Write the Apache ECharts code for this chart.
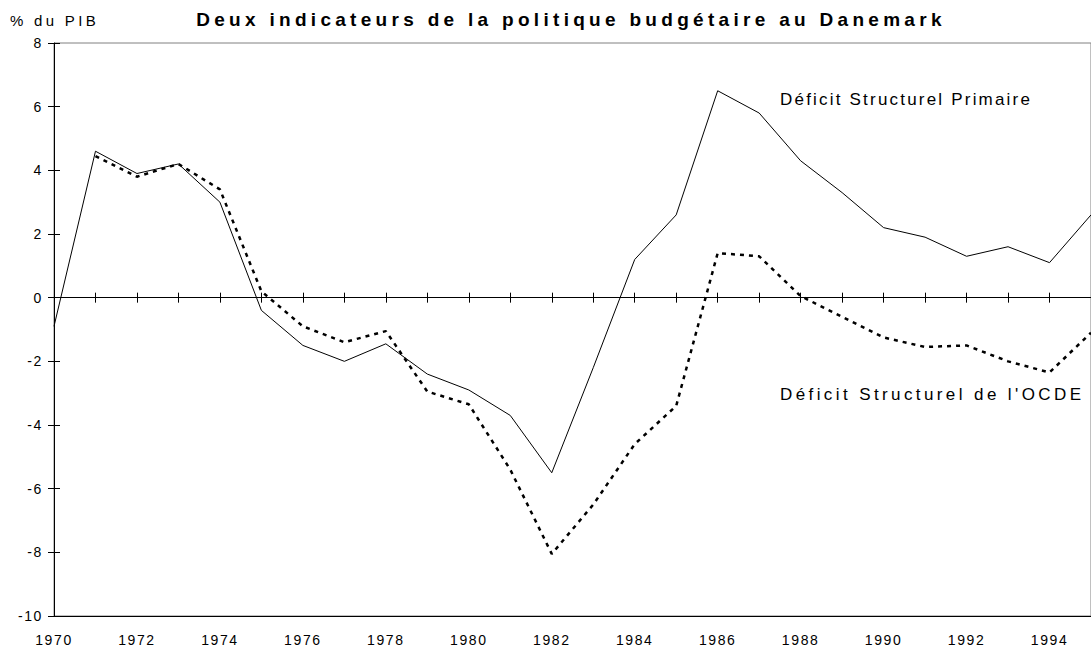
<!DOCTYPE html>
<html>
<head>
<meta charset="utf-8">
<script src="https://cdn.jsdelivr.net/npm/echarts@6/dist/echarts.min.js"></script>
<style>
  html, body { margin: 0; padding: 0; background: #fff; }
  #chart { width: 1091px; height: 648px; }
</style>
</head>
<body>
<div id="chart"></div>
<script>
// années 1970-1995 (1995 coupé au bord droit)
const years = [1970, 1971, 1972, 1973, 1974, 1975, 1976, 1977, 1978, 1979, 1980, 1981, 1982,
  1983, 1984, 1985, 1986, 1987, 1988, 1989, 1990, 1991, 1992, 1993, 1994, 1995];
const primaire = [-0.9, 4.6, 3.9, 4.2, 3.0, -0.4, -1.5, -2.0, -1.45, -2.4, -2.9, -3.7, -5.5,
  -2.2, 1.2, 2.6, 6.5, 5.8, 4.3, 3.3, 2.2, 1.9, 1.3, 1.6, 1.1, 2.6];
const ocde = [null, 4.45, 3.8, 4.2, 3.4, 0.2, -0.9, -1.4, -1.05, -2.95, -3.35, -5.4, -8.05,
  -6.5, -4.6, -3.4, 1.4, 1.3, 0.05, -0.6, -1.25, -1.55, -1.5, -2.0, -2.35, -1.1];
const yTicks = [-10, -8, -6, -4, -2, 0, 2, 4, 6, 8];

const font = 'Liberation Sans, Arial, sans-serif';
const chart = echarts.init(document.getElementById('chart'), null, { renderer: 'svg' });

const pairs = (vals) => years.map((y, i) => [y, vals[i]]);

chart.setOption({
  animation: false,
  backgroundColor: '#fff',
  grid: {
    left: 54, top: 43, width: 1044, height: 573,
    show: true, borderColor: '#808080', borderWidth: 1, backgroundColor: 'transparent'
  },
  xAxis: [
    { // axe du bas avec les étiquettes
      type: 'value', min: 1970, max: 1995, interval: 2, position: 'bottom',
      axisLine: { onZero: false, lineStyle: { color: '#000', width: 1 } },
      axisTick: { show: false }, splitLine: { show: false },
      axisLabel: { fontSize: 14, fontFamily: font, color: '#000', margin: 17, showMaxLabel: false,
        formatter: v => String(v) }
    },
    { // axe à zéro, graduations vers le bas
      type: 'value', min: 1970, max: 1995, interval: 1, position: 'bottom',
      axisLine: { onZero: true, lineStyle: { color: '#000', width: 1 } },
      axisTick: { show: true, length: 5, lineStyle: { color: '#000' } },
      axisLabel: { show: false }, splitLine: { show: false }
    },
    { // axe à zéro, graduations vers le haut
      type: 'value', min: 1970, max: 1995, interval: 1, position: 'bottom',
      axisLine: { onZero: true, show: false },
      axisTick: { show: true, inside: true, length: 5, lineStyle: { color: '#000' } },
      axisLabel: { show: false }, splitLine: { show: false }
    }
  ],
  yAxis: [
    {
      type: 'value', min: yTicks[0], max: yTicks[yTicks.length - 1], interval: 2, position: 'left',
      axisLine: { show: true, lineStyle: { color: '#000', width: 1 } },
      axisTick: { show: true, length: 6, lineStyle: { color: '#000' } },
      axisLabel: { fontSize: 14, fontFamily: font, color: '#000', margin: 11 },
      splitLine: { show: false }
    },
    {
      type: 'value', min: yTicks[0], max: yTicks[yTicks.length - 1], interval: 2, position: 'left',
      axisLine: { show: false },
      axisTick: { show: true, inside: true, length: 6, lineStyle: { color: '#000' } },
      axisLabel: { show: false }, splitLine: { show: false }
    }
  ],
  series: [
    {
      name: 'Déficit Structurel Primaire', type: 'line', data: pairs(primaire),
      symbol: 'none', silent: true,
      lineStyle: { color: '#000', width: 1 }
    },
    {
      name: "Déficit Structurel de l'OCDE", type: 'line', data: pairs(ocde),
      symbol: 'none', silent: true,
      lineStyle: { color: '#000', width: 2.5, type: [4, 5] }
    }
  ],
  graphic: [
    { type: 'text', silent: true, style: { text: '% du PIB', x: 10, y: 20, fill: '#000',
      font: '15px ' + font, textVerticalAlign: 'middle' } },
    { type: 'text', silent: true, style: { text: 'Deux indicateurs de la politique budgétaire au Danemark',
      x: 571, y: 19, fill: '#000', font: 'bold 19px ' + font, textAlign: 'center', textVerticalAlign: 'middle' } },
    { type: 'text', silent: true, style: { text: 'Déficit Structurel Primaire', x: 780, y: 99, fill: '#000',
      font: '17px ' + font, textVerticalAlign: 'middle' } },
    { type: 'text', silent: true, style: { text: "Déficit Structurel de l'OCDE", x: 780, y: 394, fill: '#000',
      font: '17px ' + font, textVerticalAlign: 'middle' } }
  ]
});

// espacement des lettres comme dans l'original
function spaceLetters() {
  chart.getDom().querySelectorAll('text').forEach(t => {
    const s = t.textContent;
    let ls = '1.6px';
    if (s.startsWith('Deux')) ls = '4.3px';
    else if (s.startsWith('Déficit Structurel P')) ls = '2.2px';
    else if (s.startsWith('Déficit Structurel d')) ls = '3.4px';
    else if (s.startsWith('%')) ls = '3.3px';
    t.style.letterSpacing = ls;
  });
}
spaceLetters();
chart.on('finished', spaceLetters);
</script>
</body>
</html>
